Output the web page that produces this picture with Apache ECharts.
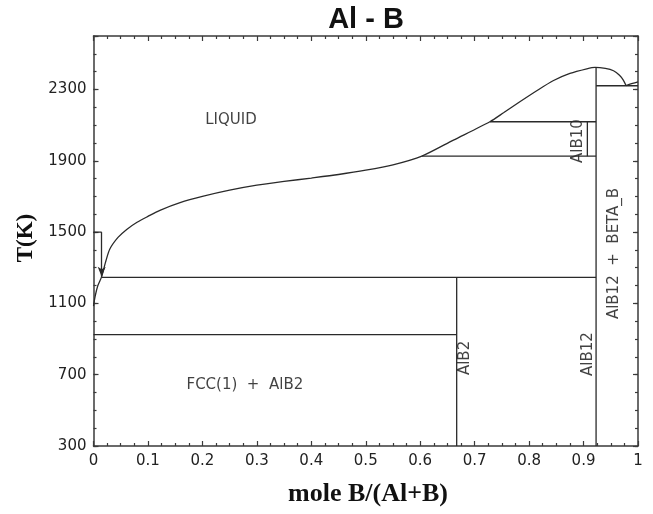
<!DOCTYPE html>
<html><head><meta charset="utf-8">
<script src="https://cdn.jsdelivr.net/npm/echarts@6/dist/echarts.min.js"></script>
<style>html,body{margin:0;padding:0;background:#fff}#c{width:653px;height:514px}</style>
</head><body><div id="c"></div>
<script>
// ---- data (mole fraction B, temperature K) ----
const liquidus = [[0,1085],[0.003,1140],[0.008,1200],[0.015,1250],[0.022,1330],[0.03,1405],[0.045,1470],[0.061,1515],[0.08,1555],[0.1,1588],[0.122,1622],[0.159,1665],[0.2,1700],[0.25,1735],[0.3,1763],[0.35,1784],[0.4,1803],[0.45,1823],[0.5,1847],[0.55,1877],[0.603,1926],[0.661,2016],[0.728,2119],[0.753,2169],[0.783,2231],[0.814,2293],[0.844,2349],[0.875,2390],[0.906,2416],[0.921,2424],[0.94,2418],[0.955,2405],[0.966,2380],[0.973,2353],[0.978,2322]];
const liquidusBeta = [[0.978,2322],[0.99,2334],[1.0,2343]];
const eutecticFcc = [[0,925],[0.667,925]];
const peritecticAlB2 = [[0.015,1246],[0.923,1246]];
const alb10Upper = [[0.728,2119],[0.923,2119]];
const alb10Lower = [[0.603,1926],[0.923,1926]];
const alb10Line = [[0.907,1926],[0.907,2119]];
const alb2Line = [[0.667,300],[0.667,1246]];
const alb12Line = [[0.923,300],[0.923,2424]];
const eutecticBeta = [[0.923,2321],[1,2321]];
const arrowStub = [[0,1500],[0.015,1500]];
const arrowFrom = [0.015,1500];
const arrowTo = [0.015,1250];
const labelTexts = ['LIQUID','FCC(1)  +  AlB2','AlB2','AlB12','AlB12  +  BETA_B','AlB10'];
const labelPositions = [[0.2525,2128],[0.278,642],[0.682,794],[0.909,816],[0.956,1380],[0.890,2011]];
const verticalLabels = ['AlB2','AlB12','AlB12  +  BETA_B','AlB10'];
const xRange = [0,1];
const yRange = [300,2600];
const yTickLabels = [300,700,1100,1500,1900,2300];

const chart = echarts.init(document.getElementById('c'), null, {renderer:'canvas'});
const lineColor = '#2a2a2a';
const axisColor = '#3a3a3a';
const labelFont = 'DejaVu Sans';

function boundary(data){
  return {type:'line', data:data, showSymbol:false, symbol:'none', silent:true,
    lineStyle:{color:lineColor, width:1.3}, animation:false};
}
function xAx(pos, showLabel){
  return {type:'value', min:xRange[0], max:xRange[1], interval:0.1, position:pos,
    axisLine:{show:true, onZero:false, lineStyle:{color:axisColor, width:1.5}},
    axisTick:{show:true, inside:true, length:5, lineStyle:{color:axisColor, width:1.2}},
    minorTick:{show:true, splitNumber:4, length:3, lineStyle:{color:axisColor, width:1.2}},
    splitLine:{show:false}, minorSplitLine:{show:false},
    axisLabel:{show:showLabel, margin:8, fontFamily:labelFont, fontSize:15, color:'#222'}};
}
function yAx(pos, interval, tickLen, showLabel, showLine){
  return {type:'value', min:yRange[0], max:yRange[1], interval:interval, position:pos,
    axisLine:{show:showLine, onZero:false, lineStyle:{color:axisColor, width:1.5}},
    axisTick:{show:true, inside:true, length:tickLen, lineStyle:{color:axisColor, width:1.2}},
    splitLine:{show:false},
    axisLabel:{show:showLabel, margin:7, fontFamily:labelFont, fontSize:15, color:'#222',
      formatter:function(v){ return yTickLabels.indexOf(v) >= 0 ? String(v) : ''; }}};
}

const series = [
  boundary(liquidus), boundary(liquidusBeta), boundary(eutecticFcc), boundary(peritecticAlB2),
  boundary(alb10Upper), boundary(alb10Lower), boundary(alb10Line), boundary(alb2Line),
  boundary(alb12Line), boundary(eutecticBeta), boundary(arrowStub)
];
series[0].smooth = 0.25;
series[1].smooth = 0.3;
series.push({type:'line', data:[], silent:true, animation:false,
  markLine:{silent:true, symbol:['none','arrow'], symbolSize:[6,10], animation:false,
    label:{show:false}, lineStyle:{type:'solid', color:lineColor, width:1.3},
    data:[[{coord:arrowFrom},{coord:arrowTo}]]}});
series.push({type:'scatter', symbolSize:0, silent:true, animation:false,
  data: labelTexts.map(function(t,i){
    return {value:labelPositions[i], label:{show:true, position:'inside', formatter:t,
      rotate: verticalLabels.indexOf(t) >= 0 ? 90 : 0,
      fontFamily:labelFont, fontSize:15, color:'#111'}};
  })});

chart.setOption({
  animation:false,
  backgroundColor:'#fff',
  title:{text:'Al - B', left:366, top:5, textAlign:'center', padding:0,
    textStyle:{fontFamily:'Liberation Sans', fontSize:29, fontWeight:'bold', color:'#111'}},
  grid:{left:93.5, right:15, top:36, bottom:68, containLabel:false},
  xAxis:[xAx('bottom', true), xAx('top', false)],
  yAxis:[yAx('left',400,5,true,true), yAx('left',100,3,false,false), yAx('right',400,5,false,true), yAx('right',100,3,false,false)],
  series:series,
  graphic:[
    {type:'text', x:26, y:238, rotation:Math.PI/2, silent:true,
      style:{text:'T(K)', align:'center', verticalAlign:'middle', font:'bold 23px "Liberation Serif"', fill:'#111'}},
    {type:'text', x:368, y:494, silent:true,
      style:{text:'mole B/(Al+B)', align:'center', verticalAlign:'middle', font:'bold 26px "Liberation Serif"', fill:'#111'}}
  ]
});
</script></body></html>
